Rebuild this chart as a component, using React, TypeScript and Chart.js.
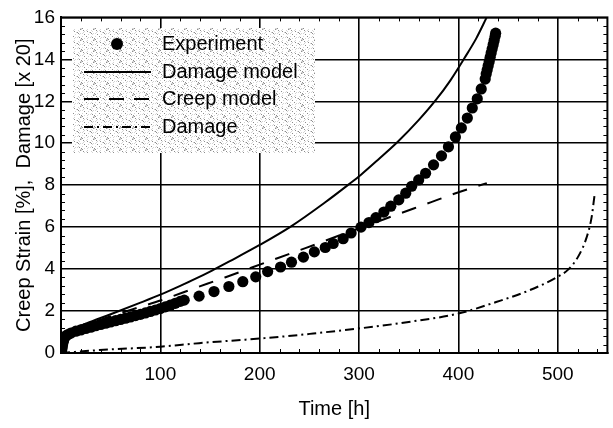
import React, { useEffect, useRef } from 'react';
import { Chart, registerables } from 'chart.js';
Chart.register(...registerables);

const FONT = '"Liberation Sans", Arial, Helvetica, sans-serif';

// Experiment (creep strain, %)
const expT = [0.5, 1, 1.5, 2, 2.5, 3, 4, 5, 7, 10, 15, 20, 25, 30, 35, 40, 45, 50, 55, 60, 65, 70, 75, 80, 85, 90, 95, 100, 105, 110, 115, 120, 124,
  139, 154, 169, 183, 196, 208, 221, 232, 244, 255, 266, 274, 284, 292, 302, 310, 317, 325, 332, 340, 347, 353, 360, 367, 375, 383, 390, 397, 403, 409, 414, 419, 423,
  427, 428, 429, 430, 431, 432, 433, 434, 435, 436, 437, 437.5];
const expY = [0.05, 0.2, 0.35, 0.5, 0.6, 0.68, 0.76, 0.82, 0.88, 0.95, 1.04, 1.1, 1.17, 1.23, 1.3, 1.36, 1.42, 1.48, 1.54, 1.6, 1.66, 1.72, 1.78, 1.84, 1.91, 1.98, 2.05, 2.12, 2.2, 2.28, 2.37, 2.46, 2.52,
  2.71, 2.93, 3.17, 3.4, 3.63, 3.88, 4.1, 4.33, 4.57, 4.82, 5.03, 5.22, 5.45, 5.72, 6.0, 6.22, 6.45, 6.72, 7.0, 7.3, 7.62, 7.95, 8.25, 8.57, 8.97, 9.4, 9.83, 10.3, 10.73, 11.2, 11.68, 12.12, 12.59,
  13.06, 13.3, 13.5, 13.7, 13.9, 14.1, 14.3, 14.5, 14.7, 14.9, 15.1, 15.25];

// Damage model (solid)
const dmgModelT = [0, 1, 3, 10, 25, 50, 80, 100, 120, 135, 152, 170, 200, 232, 265, 290, 302, 320, 339, 360, 377, 392, 406, 418, 428.5];
const dmgModelY = [0, 0.5, 0.85, 1.1, 1.4, 1.85, 2.4, 2.78, 3.2, 3.53, 3.93, 4.38, 5.15, 6.05, 7.15, 8.05, 8.5, 9.25, 10.07, 11.1, 12.04, 13.0, 14.05, 15.0, 16.0];

// Creep model (dashed)
const creepT = [0, 1, 3, 10, 25, 50, 80, 100, 134, 165, 193.5, 218.5, 246, 280, 315, 338, 372, 395, 428.6];
const creepY = [0, 0.5, 0.82, 1.05, 1.32, 1.75, 2.2, 2.5, 3.08, 3.6, 4.1, 4.53, 5.0, 5.6, 6.2, 6.6, 7.18, 7.58, 8.1];

// Damage (dash-dot, x 20)
const damageT = [0, 39, 100, 139, 200, 238, 254, 300, 350, 400, 438, 471, 499, 511, 521, 529, 534, 537];
const damageY = [0, 0.14, 0.3, 0.47, 0.69, 0.85, 0.93, 1.17, 1.48, 1.88, 2.43, 2.98, 3.61, 4.0, 4.63, 5.5, 6.44, 7.5];

const xTicks = [100, 200, 300, 400, 500];
const yTicks = [0, 2, 4, 6, 8, 10, 12, 14, 16];

const legendLabels = ['Experiment', 'Damage model', 'Creep model', 'Damage'];

const pts = (t: number[], y: number[]) => t.map((v, i) => ({ x: v, y: y[i] }));

function makePattern(ctx: CanvasRenderingContext2D) {
  const c = document.createElement('canvas');
  c.width = 13; c.height = 11;
  const g = c.getContext('2d')!;
  g.fillStyle = '#ffffff';
  g.fillRect(0, 0, 13, 11);
  for (let i = 0; i < 13; i++) {
    for (let j = 0; j < 11; j++) {
      const h = (i * 7 + j * 5 + i * j * 3) % 13;
      if (h < 1) { g.fillStyle = '#8c8c8c'; g.fillRect(i, j, 1, 1); }
      else if (h < 3) { g.fillStyle = '#d4d4d4'; g.fillRect(i, j, 1, 1); }
    }
  }
  return ctx.createPattern(c, 'repeat');
}

const decorPlugin = {
  id: 'decor',
  afterDraw(chart: any) {
    const { ctx, chartArea: a, scales } = chart;
    const xs = scales.x, ys = scales.y;
    ctx.save();
    // frame
    ctx.strokeStyle = '#000';
    ctx.lineWidth = 2;
    ctx.strokeRect(a.left, a.top, a.right - a.left, a.bottom - a.top);
    // minor ticks
    ctx.lineWidth = 1;
    ctx.beginPath();
    for (let v = 20; v < 550; v += 20) {
      if (v % 100 === 0) continue;
      const px = Math.round(xs.getPixelForValue(v)) + 0.5;
      ctx.moveTo(px, a.bottom); ctx.lineTo(px, a.bottom - 4);
      ctx.moveTo(px, a.top); ctx.lineTo(px, a.top + 4);
    }
    for (let k = 1; k < 40; k++) {
      if (k % 5 === 0) continue;
      const py = Math.round(ys.getPixelForValue(k * 0.4)) + 0.5;
      ctx.moveTo(a.left, py); ctx.lineTo(a.left + 4, py);
      ctx.moveTo(a.right, py); ctx.lineTo(a.right - 4, py);
    }
    ctx.stroke();

    // legend
    const bx = 72, by = 28, bw = 243, bh = 125;
    const pat = makePattern(ctx);
    ctx.fillStyle = pat || '#eeeeee';
    ctx.fillRect(bx, by, bw, bh);
    const rows = [44, 72, 99, 127];
    ctx.fillStyle = '#000';
    ctx.font = `20px ${FONT}`;
    ctx.textBaseline = 'middle';
    ctx.textAlign = 'left';
    rows.forEach((ry, i) => {
      ctx.fillText(legendLabels[i], 162, ry);
    });
    // marker
    ctx.beginPath();
    ctx.arc(117, rows[0], 6, 0, Math.PI * 2);
    ctx.fill();
    // lines
    ctx.strokeStyle = '#000';
    ctx.lineWidth = 2.2;
    const seg = (ry: number, dash: number[]) => {
      ctx.setLineDash(dash);
      ctx.beginPath();
      ctx.moveTo(84, ry); ctx.lineTo(151, ry);
      ctx.stroke();
    };
    seg(rows[1], []);
    seg(rows[2], [15, 10]);
    seg(rows[3], [9, 4, 2, 4]);
    ctx.setLineDash([]);
    ctx.restore();
  },
};

export default function App() {
  const ref = useRef<HTMLCanvasElement>(null);
  useEffect(() => {
    const canvas = ref.current!;
    const chart = new Chart(canvas, {
      type: 'scatter',
      data: {
        datasets: [
          {
            label: legendLabels[0],
            data: pts(expT, expY),
            showLine: false,
            pointRadius: 5.6,
            pointBackgroundColor: '#000',
            pointBorderColor: '#000',
            pointBorderWidth: 0,
          },
          {
            label: legendLabels[1],
            data: pts(dmgModelT, dmgModelY),
            showLine: true,
            pointRadius: 0,
            borderColor: '#000',
            borderWidth: 2,
            cubicInterpolationMode: 'monotone',
          },
          {
            label: legendLabels[2],
            data: pts(creepT, creepY),
            showLine: true,
            pointRadius: 0,
            borderColor: '#000',
            borderWidth: 2,
            borderDash: [15, 12],
            cubicInterpolationMode: 'monotone',
          },
          {
            label: legendLabels[3],
            data: pts(damageT, damageY),
            showLine: true,
            pointRadius: 0,
            borderColor: '#000',
            borderWidth: 2,
            borderDash: [9, 4, 2, 4],
            cubicInterpolationMode: 'monotone',
          },
        ] as any,
      },
      options: {
        responsive: false,
        animation: false,
        events: [],
        layout: { padding: { top: 14, right: 1, left: 0, bottom: 0 } },
        plugins: { legend: { display: false }, tooltip: { enabled: false } },
        scales: {
          x: {
            type: 'linear',
            min: 0,
            max: 550,
            afterBuildTicks: (s: any) => { s.ticks = xTicks.map((v) => ({ value: v })); },
            afterFit: (s: any) => { s.height = 75; },
            grid: { color: '#000', lineWidth: 1.6, drawTicks: false },
            border: { display: true, color: '#000', width: 2 },
            ticks: { color: '#000', font: { family: FONT, size: 19 }, padding: 10, maxRotation: 0, autoSkip: false },
            title: { display: true, text: 'Time [h]', color: '#000', font: { family: FONT, size: 20 }, padding: { top: 0, bottom: 7 } },
          },
          y: {
            type: 'linear',
            min: 0,
            max: 16,
            afterBuildTicks: (s: any) => { s.ticks = yTicks.map((v) => ({ value: v })); },
            afterFit: (s: any) => { s.width = 61; },
            grid: { color: '#000', lineWidth: 1.6, drawTicks: false },
            border: { display: true, color: '#000', width: 2 },
            ticks: { color: '#000', font: { family: FONT, size: 19 }, padding: 6, autoSkip: false },
            title: { display: true, text: 'Creep Strain [%],  Damage [x 20]', color: '#000', font: { family: FONT, size: 20 }, padding: { top: 12, bottom: 0 } },
          },
        },
      } as any,
      plugins: [decorPlugin],
    });
    return () => chart.destroy();
  }, []);
  return (
    <div style={{ position: 'absolute', left: 0, top: 0, width: 613, height: 428, background: '#fff' }}>
      <canvas ref={ref} width={613} height={428} style={{ display: 'block' }} />
    </div>
  );
}
